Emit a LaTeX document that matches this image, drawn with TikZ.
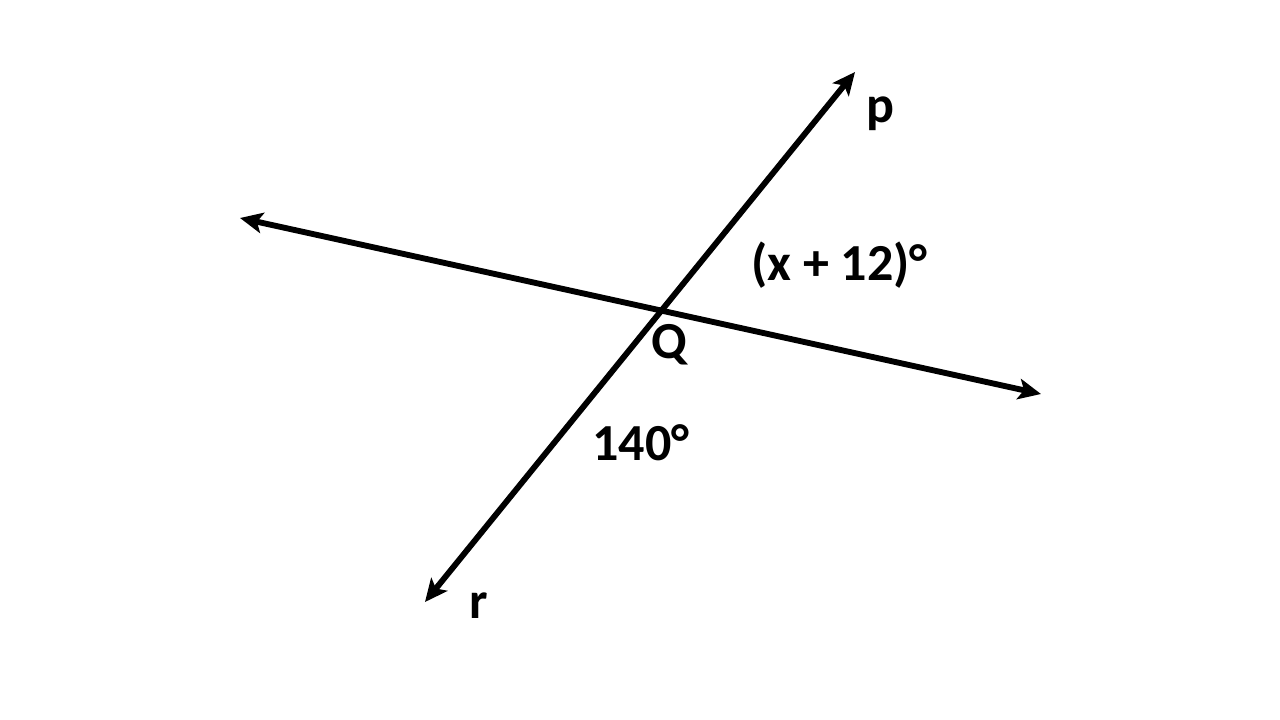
\documentclass[tikz,border=0pt]{standalone}
\usepackage{fontspec}
\setmainfont{Carlito}
\usetikzlibrary{arrows.meta}
\begin{document}
\begin{tikzpicture}[x=0.75pt,y=-0.75pt,
  ray/.style={line width=4.4pt,{Stealth[length=17pt,width=15.5pt,inset=4pt]}-{Stealth[length=17pt,width=15.5pt,inset=4pt]}},
  lbl/.style={inner sep=0pt,anchor=base west,font=\fontsize{39}{44}\selectfont\bfseries}]
\useasboundingbox (0,0) rectangle (1280,720);
\coordinate (L) at (240,218);
\coordinate (R) at (1041,394);
\coordinate (P) at (855,72);
\coordinate (S) at (425,602);
\draw[ray] (L) -- (R);
\draw[ray] (S) -- (P);
\node[lbl] (p) at (866,123) {p};
\node[lbl] (r) at (469,618) {r};
\node[lbl] (a) at (751,280) {(x + 12)°};
\node[lbl] (q) at (651,358) {Q};
\node[lbl] (b) at (592,460) {140°};
\end{tikzpicture}
\end{document}
